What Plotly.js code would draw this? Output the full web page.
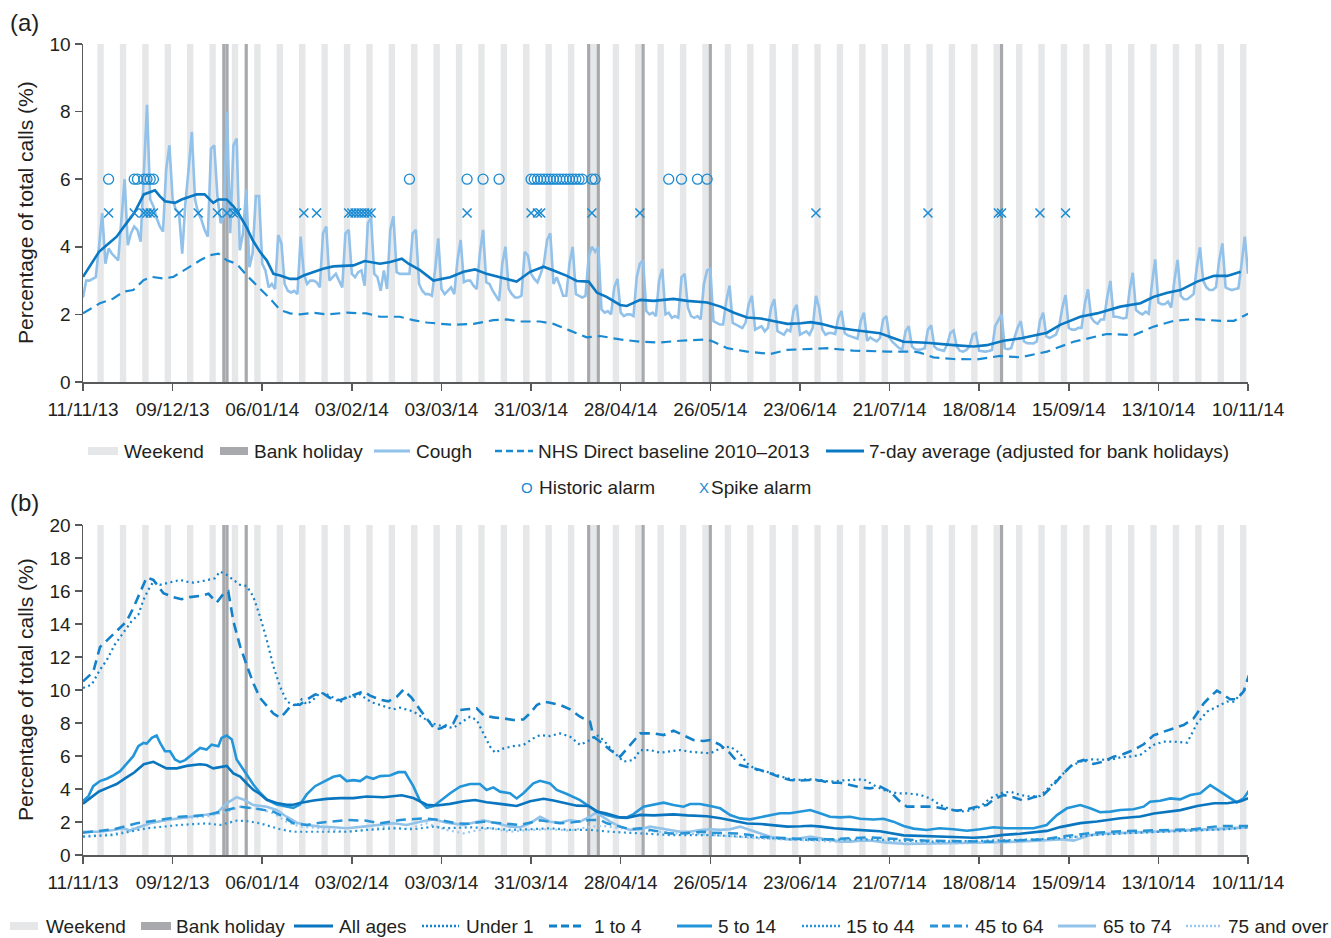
<!DOCTYPE html>
<html><head><meta charset="utf-8">
<script src="https://cdn.plot.ly/plotly-3.0.1.min.js"></script>
<style>html,body{margin:0;padding:0;background:#fff;}#chart{width:1331px;height:938px;}</style>
</head><body><div id="chart"></div>
<script>
// ---------- DATA ----------
const startDate = '2013-11-11';
const tickDates = ['2013-11-11','2013-12-09','2014-01-06','2014-02-03','2014-03-03','2014-03-31','2014-04-28','2014-05-26','2014-06-23','2014-07-21','2014-08-18','2014-09-15','2014-10-13','2014-11-10'];
const tickLabels = ['11/11/13','09/12/13','06/01/14','03/02/14','03/03/14','31/03/14','28/04/14','26/05/14','23/06/14','21/07/14','18/08/14','15/09/14','13/10/14','10/11/14'];
const bankHolidays = ['2013-12-25','2013-12-26','2014-01-01','2014-04-18','2014-04-21','2014-05-05','2014-05-26','2014-08-25'];

// (a) daily cough share (%), one value per day from startDate
const coughValues = [
2.5,3.0,3.0,3.05,3.1,4.0,5.0,
3.5,3.95,3.8,3.7,3.6,4.8,6.0,
4.05,4.4,4.6,4.5,4.15,6.2,8.2,
5.4,5.2,4.85,4.6,4.45,6.3,7.0,
5.4,5.1,5.0,3.8,5.3,6.3,7.4,
5.4,5.0,4.8,4.5,4.3,6.9,7.0,
5.5,4.7,4.9,8.0,4.4,7.0,7.2,
3.9,4.4,5.7,3.4,3.8,5.5,5.5,
3.5,3.3,2.8,2.9,2.75,4.35,4.1,
2.9,2.7,2.65,2.7,2.6,4.3,3.2,
2.9,3.0,3.0,2.95,2.8,4.4,4.6,
3.0,3.1,3.2,3.0,2.8,4.4,4.5,
3.2,3.1,3.25,3.3,2.85,4.7,4.85,
3.2,3.1,2.7,3.3,2.75,4.5,4.9,
3.25,3.2,3.2,3.2,3.2,4.4,4.5,
2.9,2.7,2.6,2.6,2.55,3.3,4.25,
2.75,2.6,2.7,2.8,2.6,3.6,4.2,
2.95,3.0,3.0,2.85,2.75,3.8,4.5,
2.95,2.9,2.7,2.55,2.4,3.5,4.0,
2.75,2.6,2.5,2.5,2.55,3.85,3.75,
3.2,3.05,2.95,3.2,3.5,4.2,4.4,
2.9,3.1,2.85,2.55,2.55,3.5,4.0,
2.6,2.55,2.5,2.55,3.7,4.0,3.85,
4.0,2.15,2.05,2.1,2.0,2.8,3.05,
2.05,1.95,2.0,2.0,1.95,3.1,3.5,
3.6,2.1,2.0,2.05,1.95,3.0,3.35,
2.0,2.05,1.9,1.95,1.9,3.1,3.2,
2.2,1.95,1.9,1.95,1.85,2.9,3.3,
3.35,1.8,1.75,1.7,1.7,2.4,2.85,
1.75,1.7,1.65,1.6,1.75,2.3,2.55,
1.55,1.6,1.65,1.5,1.6,2.2,2.45,
1.5,1.45,1.4,1.55,1.5,2.1,2.28,
1.4,1.45,1.5,1.4,1.6,2.55,2.2,
1.55,1.4,1.45,1.45,1.42,1.9,2.1,
1.44,1.38,1.34,1.3,1.28,1.8,2.05,
1.22,1.32,1.25,1.2,1.3,1.85,1.95,
1.3,1.18,1.1,1.0,0.97,1.5,1.65,
1.05,0.97,0.95,0.97,1.0,1.55,1.68,
1.05,0.97,0.95,0.92,1.1,1.45,1.52,
1.05,0.92,0.9,0.95,1.05,1.4,1.45,
0.92,0.9,0.9,0.92,0.95,1.65,1.85,
2.0,1.0,0.97,1.0,1.3,1.6,1.8,
1.2,1.15,1.15,1.14,1.2,1.8,2.05,
1.35,1.3,1.35,1.4,1.65,2.2,2.57,
1.6,1.55,1.55,1.6,1.6,2.3,2.74,
1.9,1.78,1.72,1.85,1.85,2.5,2.99,
1.93,1.93,1.9,1.88,1.9,2.7,3.23,
2.13,2.05,2.0,2.08,2.02,2.9,3.63,
2.35,2.3,2.3,2.38,2.2,3.0,3.61,
2.55,2.45,2.45,2.52,2.6,3.4,3.98,
3.0,2.8,2.72,2.72,2.8,3.6,4.1,
2.8,2.75,2.72,2.75,2.77,3.5,4.3,
3.2];

// [day since startDate, value]
const sevenDayAvg = [[0,3.11],[2,3.4],[5,3.85],[8,4.1],[10.5,4.3],[13.6,4.7],[16,5.0],[19,5.55],[20.4,5.6],[22.5,5.67],[24,5.5],[25.6,5.35],[28.75,5.3],[30.8,5.4],[34,5.5],[35.5,5.55],[38,5.55],[40.7,5.3],[42.3,5.4],[44.9,5.4],[47,5.2],[48.5,5.0],[51,4.6],[53,4.2],[55.3,3.85],[57.4,3.6],[59.5,3.2],[61.6,3.15],[64.7,3.05],[66.8,3.05],[68.9,3.15],[72,3.25],[75,3.35],[78.2,3.42],[84.5,3.45],[88,3.58],[92.8,3.5],[96,3.55],[99.6,3.65],[101.7,3.5],[105.3,3.31],[109.5,3.0],[114.7,3.1],[118.9,3.26],[122.5,3.33],[126.1,3.2],[130.3,3.1],[135.5,2.97],[139.7,3.26],[143.9,3.41],[147,3.3],[151.2,3.14],[154.3,2.99],[158,2.97],[160.6,2.64],[163.6,2.52],[167.8,2.28],[169.9,2.25],[174.1,2.43],[178.3,2.4],[184.5,2.46],[188.8,2.4],[195,2.35],[199.2,2.23],[203.4,2.05],[207.5,1.91],[211.7,1.88],[215.9,1.81],[220.1,1.72],[224.3,1.74],[227.4,1.77],[230.6,1.72],[234.7,1.62],[240.7,1.54],[249,1.44],[256.4,1.19],[263.6,1.16],[272,1.09],[278.2,1.05],[282.4,1.09],[287.6,1.22],[292.8,1.29],[301.2,1.46],[305.3,1.69],[311.6,1.93],[316.8,2.03],[324.1,2.23],[330.4,2.33],[334.6,2.52],[338.8,2.64],[342.9,2.72],[348.1,2.97],[353.4,3.14],[357.5,3.14],[361.7,3.26]];

const nhsBaseline = [[0,2.03],[5.3,2.33],[9.5,2.47],[12.6,2.67],[15.7,2.72],[18.9,3.01],[21.5,3.11],[25.1,3.06],[28.2,3.11],[32.4,3.36],[36.6,3.6],[39.7,3.75],[42.3,3.8],[44.9,3.6],[48,3.5],[51.1,3.16],[55.3,2.77],[58.4,2.47],[61.6,2.13],[64.7,2.03],[67.8,2.0],[72,2.05],[76.1,2.0],[82.4,2.05],[88.6,2.03],[92.8,1.93],[99,1.93],[103.2,1.83],[107.4,1.76],[115.7,1.69],[122,1.72],[128.2,1.83],[132.4,1.85],[136.6,1.79],[142.8,1.79],[147,1.72],[152.2,1.52],[157.4,1.32],[161.6,1.36],[167.8,1.26],[174.1,1.19],[180.3,1.17],[186.6,1.22],[195,1.26],[197,1.19],[201.3,1.0],[207.5,0.9],[214.8,0.83],[220.1,0.95],[226.3,0.97],[232.6,1.0],[240.7,0.93],[251.1,0.9],[259.4,0.9],[261.5,0.87],[265.7,0.73],[272,0.68],[279.3,0.67],[286.5,0.77],[292.8,0.73],[301.2,0.9],[309.5,1.19],[319.9,1.42],[328.3,1.39],[334.6,1.64],[340.8,1.81],[347.1,1.86],[355.4,1.81],[359.6,1.81],[364,2.02]];

const historicAlarmDays = [8,16,17,19,20,21,22,102,120,125,130,140,141,142,143,144,145,146,147,148,149,150,151,152,153,154,155,156,159,160,183,187,192,195];
const spikeAlarmDays = [8,16,19,20,21,22,30,36,42,45,47,48,69,73,83,84,85,86,87,88,89,90,120,140,142,143,159,174,229,264,286,287,299,307];
const historicAlarmLevel = 6;
const spikeAlarmLevel = 5;

// (b) age groups, [day, value]
const allAges = [[0,3.11],[2,3.4],[5,3.85],[8,4.1],[10.5,4.3],[13.6,4.7],[16,5.0],[19,5.5],[22,5.65],[24,5.45],[26.1,5.25],[29.3,5.25],[32.4,5.4],[36.6,5.5],[38.6,5.45],[40.7,5.25],[44.9,5.4],[47,4.95],[49.1,4.75],[51.1,4.35],[53.2,3.95],[55.3,3.7],[57.4,3.35],[60.5,3.15],[63.6,3.05],[65.7,3.05],[67.8,3.15],[72,3.3],[76.1,3.4],[80.3,3.45],[84.5,3.45],[88.6,3.55],[93.9,3.5],[99.6,3.62],[103.2,3.45],[107.4,3.05],[110.5,3.0],[114.7,3.1],[118.9,3.26],[122.5,3.33],[126.1,3.2],[130.3,3.1],[135.5,2.97],[139.7,3.26],[143.9,3.41],[147,3.3],[151.2,3.14],[154.3,2.99],[158,2.97],[160.6,2.64],[163.6,2.52],[167.8,2.28],[169.9,2.25],[174.1,2.43],[178.3,2.4],[184.5,2.46],[188.8,2.4],[195,2.35],[199.2,2.23],[203.4,2.05],[207.5,1.91],[211.7,1.88],[215.9,1.81],[220.1,1.72],[224.3,1.74],[227.4,1.77],[230.6,1.72],[234.7,1.62],[240.7,1.54],[249,1.44],[256.4,1.19],[263.6,1.16],[272,1.09],[278.2,1.05],[282.4,1.09],[287.6,1.22],[292.8,1.29],[301.2,1.46],[305.3,1.69],[311.6,1.93],[316.8,2.03],[324.1,2.23],[330.4,2.33],[334.6,2.52],[338.8,2.64],[342.9,2.72],[348.1,2.97],[353.4,3.14],[357.5,3.14],[361.7,3.26],[364.3,3.45]];

const under1 = [[0,10.12],[2.7,10.32],[5.3,11.23],[7.4,11.8],[9.9,12.74],[12.5,13.45],[15.1,14.15],[17.3,14.56],[18.9,15.47],[20.4,16.07],[22,16.57],[24,16.37],[26.1,16.47],[28.2,16.57],[30.3,16.67],[32.4,16.57],[34.5,16.51],[36.6,16.57],[38.6,16.67],[41.2,16.77],[42.8,17.18],[44.9,16.98],[47,16.67],[49.1,16.37],[51.1,16.31],[53.2,15.67],[55.3,14.46],[57.4,13.05],[59.5,11.43],[61.6,10.2],[63.6,9.33],[65.2,9.13],[66.8,9.03],[68.3,9.43],[69.9,9.13],[72,9.43],[74.1,9.84],[76.1,9.74],[78.2,9.54],[80.3,9.23],[82.4,9.64],[84.5,9.54],[86.6,9.74],[88.6,9.43],[90.7,9.23],[93.9,9.03],[97,8.83],[99.1,8.93],[101.1,8.83],[103.2,8.7],[106.4,8.3],[109.5,7.95],[112.4,7.8],[115.7,7.7],[117.8,7.98],[120.9,8.38],[123,8.18],[125.1,7.37],[127.2,6.57],[128.75,6.2],[131.4,6.46],[134.5,6.6],[137.6,6.67],[140.7,7.07],[142.8,7.27],[145.9,7.21],[149.1,7.37],[152.2,7.17],[155.3,6.67],[158.4,6.97],[160.5,7.27],[162.6,6.97],[165.7,6.26],[168.9,5.66],[172,5.76],[174.1,6.36],[177.2,6.36],[180.3,6.2],[183.4,6.26],[186.6,6.36],[189.7,6.26],[192.8,6.2],[196,6.16],[199.1,6.46],[202.2,6.57],[205.3,6.16],[207.4,5.56],[210.5,5.15],[213.6,5.05],[216.8,4.85],[219.9,4.65],[223,4.55],[227.2,4.59],[230.3,4.55],[233.4,4.44],[236.6,4.51],[239.7,4.53],[243.9,4.59],[247,4.24],[250.1,3.94],[254.3,3.74],[257.4,3.74],[261.6,3.64],[264.7,3.43],[267.8,3.03],[271,2.77],[274.1,2.63],[277.2,2.69],[280.3,2.93],[283.4,3.43],[286.6,3.74],[289.7,3.84],[292.8,3.64],[295.9,3.54],[299.1,3.58],[302.2,4.14],[305.3,4.75],[308.4,5.35],[311.6,5.66],[314.7,5.8],[317.8,5.76],[320.9,5.76],[324.1,5.92],[327.1,5.96],[330.3,6.06],[334.5,6.67],[337.6,6.87],[340.7,6.87],[345,6.81],[348.1,7.98],[351.2,8.69],[354.3,8.99],[357.4,9.29],[359.5,9.29],[361.6,9.7],[364,10.2]];

const oneToFour = [[0,10.52],[1.7,10.8],[3.2,11.1],[5.3,12.6],[7.4,13.0],[9.5,13.4],[11.6,13.75],[13.6,14.15],[15.7,14.96],[17.8,15.87],[19.9,16.83],[22,16.67],[23.5,16.27],[25.1,15.87],[28.2,15.63],[30.8,15.5],[33.4,15.63],[36.6,15.7],[39.2,15.83],[41.8,15.3],[43.9,15.83],[45.4,15.97],[47,14.15],[49.1,12.64],[51.1,11.53],[53.2,10.42],[55.3,9.52],[57.4,9.01],[59.5,8.57],[61.6,8.31],[63.1,8.61],[65.2,9.11],[67.8,9.11],[69.9,9.42],[72.5,9.72],[75.1,9.78],[77.2,9.52],[80.3,9.38],[83.4,9.62],[87.6,9.92],[89.7,9.66],[92.8,9.42],[95.4,9.31],[98,9.58],[100.1,10.02],[102.7,9.52],[105.3,8.81],[108.4,8.0],[110,7.6],[112.1,7.7],[113.6,7.88],[115.7,7.98],[117.8,8.79],[119.9,8.83],[123,8.89],[125.1,8.48],[128.2,8.34],[131.4,8.28],[134.5,8.18],[137.6,8.22],[139.7,8.59],[141.8,9.09],[143.9,9.29],[145.9,9.23],[149.1,9.09],[152.2,8.83],[155.3,8.38],[158.4,8.08],[159.5,7.17],[161.6,6.87],[164.7,6.36],[167.8,5.96],[170.9,6.67],[174.1,7.37],[178.2,7.37],[181.4,7.27],[184.5,7.54],[187.6,7.27],[190.7,6.97],[193.9,6.91],[196,6.97],[199.1,6.67],[202.2,6.16],[205.3,5.45],[208.4,5.31],[211.6,5.15],[214.7,4.95],[217.8,4.71],[220.9,4.55],[224.1,4.51],[227.2,4.55],[230.3,4.51],[233.4,4.38],[236.6,4.38],[239.7,4.24],[242.8,4.1],[245.9,4.04],[249.1,4.14],[252.2,3.84],[255.3,3.23],[257.4,2.93],[261.6,2.93],[265.7,2.93],[269.9,2.77],[273,2.69],[276.2,2.77],[279.3,2.93],[282.4,3.03],[284.5,3.37],[287.6,3.64],[290.7,3.5],[293.9,3.29],[297,3.5],[300.1,3.64],[303.2,4.24],[306.4,4.95],[309.5,5.56],[312.6,5.76],[315.7,5.52],[318.9,5.66],[322,5.96],[325.1,6.12],[328.2,6.36],[331.4,6.71],[334.5,7.25],[337.6,7.47],[340.7,7.68],[343.9,7.88],[347,8.28],[350.2,9.19],[352.2,9.6],[354.3,9.96],[356.4,9.7],[358.4,9.44],[360.5,9.44],[362.6,9.9],[364.3,10.9]];

const fiveToFourteen = [[0,3.27],[1.7,3.57],[3.2,4.17],[5.3,4.48],[7.4,4.62],[9.5,4.82],[11.6,5.08],[13.6,5.54],[15.7,5.99],[17.3,6.59],[18.9,6.79],[19.9,6.75],[21.5,7.1],[23,7.24],[24.1,6.79],[25.6,6.29],[27.2,6.29],[28.75,5.79],[30.3,5.63],[31.9,5.75],[33.4,5.99],[35,6.19],[36.6,6.49],[38.6,6.39],[40.2,6.69],[42.3,6.59],[43.3,7.1],[44.9,7.24],[46.5,7.0],[48,5.79],[51.1,4.88],[53.2,4.27],[55.3,3.77],[57.4,3.37],[60.5,3.06],[63.6,2.96],[65.7,2.86],[67.8,3.06],[69.9,3.67],[72.5,4.17],[75.1,4.42],[78.2,4.74],[80.3,4.82],[82.4,4.48],[84.5,4.54],[86.6,4.48],[88.6,4.74],[90.7,4.62],[92.8,4.78],[95.9,4.82],[98.5,5.02],[100.6,5.02],[103.2,4.17],[105.3,3.27],[107.4,2.86],[109.5,2.96],[111.6,3.27],[114.7,3.74],[117.8,4.14],[120.9,4.3],[124,4.3],[126.1,3.94],[128.2,4.1],[130.3,3.84],[133.4,3.74],[135.5,3.43],[137.6,3.74],[140.7,4.34],[142.8,4.5],[145.9,4.34],[148,3.94],[151.2,3.7],[155.3,3.33],[158.4,2.93],[160.5,2.63],[163.6,2.42],[166.7,2.28],[169.9,2.28],[172,2.48],[175.1,2.93],[178.2,3.03],[181.4,3.17],[184.5,3.03],[187.6,2.93],[189.7,3.09],[192.8,3.09],[196,2.97],[199.1,2.83],[202.2,2.42],[205.3,2.22],[208.4,2.16],[211.6,2.28],[214.7,2.42],[217.8,2.53],[220.9,2.53],[224.1,2.63],[227.2,2.73],[230.3,2.53],[233.4,2.32],[236.6,2.28],[239.7,2.32],[242.8,2.2],[247,2.15],[250.1,2.2],[253.2,2.02],[256.4,1.76],[259.5,1.6],[263.6,1.52],[267.6,1.62],[272,1.56],[276.2,1.47],[280.3,1.56],[284.5,1.68],[288.6,1.62],[292.8,1.62],[297,1.62],[301.1,1.82],[304.3,2.42],[307.4,2.83],[311.6,3.03],[314.7,2.83],[317.8,2.59],[321,2.63],[324.1,2.73],[328.2,2.77],[331.4,2.93],[333.4,3.23],[336.6,3.29],[339.7,3.43],[342.8,3.37],[346,3.64],[349.1,3.74],[352.2,4.24],[355.3,3.84],[358.4,3.43],[360.5,3.19],[362.6,3.43],[364.3,3.9]];

const fifteenToFortyFour = [[0,1.11],[9.5,1.21],[19.9,1.62],[30.3,1.82],[38.6,1.92],[42.8,1.82],[48,2.08],[51.1,2.06],[55.3,1.92],[61.6,1.56],[65.7,1.41],[72,1.41],[82.4,1.41],[88.6,1.52],[98,1.62],[103.2,1.56],[109.5,1.72],[113.6,1.62],[120.9,1.68],[127.2,1.62],[133.4,1.52],[139.7,1.56],[145.9,1.62],[152.2,1.52],[158.4,1.52],[164.7,1.41],[170.9,1.35],[177.2,1.27],[183.4,1.21],[189.7,1.21],[195.9,1.21],[202.2,1.15],[208.4,1.07],[214.7,1.01],[220.9,0.95],[227.2,0.91],[233.4,0.91],[239.7,0.95],[245.9,0.95],[254,0.88],[263.6,0.81],[274,0.83],[284.5,0.87],[295,0.93],[305.3,1.01],[315.7,1.21],[326,1.32],[336.6,1.41],[347,1.48],[357.4,1.56],[364.3,1.68]];

const fortyFiveToSixtyFour = [[0,1.35],[9.5,1.56],[16.8,1.92],[23,2.12],[30.3,2.32],[38.6,2.42],[44.9,2.73],[49.1,2.93],[55.3,2.77],[59.5,2.63],[62.6,2.32],[65.7,1.92],[69.9,1.82],[74.1,1.96],[82.4,2.12],[88.6,2.08],[92.8,1.92],[99.1,2.12],[106.4,2.22],[111.6,2.12],[116.8,1.92],[120.9,1.9],[125.1,2.02],[131.3,1.92],[136.6,1.82],[142.8,2.1],[149,1.92],[152.2,1.96],[158.4,2.12],[161.6,2.12],[163.7,1.92],[167.8,1.72],[170.9,1.56],[174.1,1.62],[177.2,1.52],[180.3,1.41],[183.4,1.31],[186.6,1.31],[189.7,1.35],[194,1.41],[195.9,1.35],[200,1.31],[204.3,1.31],[208.4,1.21],[211.6,1.11],[214.7,1.07],[220.9,1.01],[227.2,0.95],[233.4,0.95],[239.7,1.01],[245.9,1.07],[251.1,1.01],[263.6,0.87],[275,0.83],[284.5,0.81],[292,0.88],[300,0.95],[307,1.15],[315.7,1.35],[326,1.45],[336.6,1.52],[347,1.56],[355.3,1.76],[364.3,1.76]];

const sixtyFiveToSeventyFour = [[0,1.41],[5.3,1.41],[9.5,1.52],[12.6,1.62],[14.7,1.48],[17.8,1.72],[20.9,1.92],[26.1,2.12],[30.3,2.22],[34.5,2.32],[38.6,2.42],[41.8,2.53],[44.9,3.13],[48,3.5],[50.1,3.37],[53.2,3.03],[57.4,2.93],[60.5,2.73],[63.6,2.32],[66.8,1.96],[69.9,1.82],[74.1,1.72],[78.2,1.68],[82.4,1.62],[87.6,1.72],[92.8,1.82],[97,1.92],[101.1,1.82],[105.3,2.02],[109.5,2.16],[113.6,1.96],[118.9,1.82],[122,1.96],[125.1,2.1],[129.2,1.92],[133.4,1.72],[136.6,1.68],[139.7,1.92],[142.8,2.32],[145.9,2.02],[149,1.96],[152.2,2.12],[155.3,2.02],[158.4,2.32],[160,2.53],[161.6,2.42],[164.7,2.02],[167.8,1.72],[170.9,1.52],[174.1,1.56],[177.2,1.72],[180.3,1.62],[183.4,1.52],[186.6,1.41],[189.7,1.41],[192.8,1.52],[195.9,1.56],[199.1,1.52],[202.2,1.56],[205.3,1.72],[208.4,1.52],[211.6,1.31],[214.7,1.11],[217.8,1.01],[220.9,0.95],[224.1,1.01],[227.2,1.11],[230.3,1.01],[233.4,0.91],[236.6,0.81],[239.7,0.81],[242.8,0.87],[245.9,0.88],[251,0.75],[257.4,0.67],[265,0.7],[274,0.71],[282,0.74],[289.7,0.79],[297,0.85],[305.3,0.95],[309.5,0.87],[314.7,1.21],[320,1.3],[326.6,1.35],[336,1.42],[347.4,1.52],[356,1.6],[364.3,1.68]];

const seventyFivePlus = [[0,1.15],[9.5,1.27],[15.7,1.62],[23,2.02],[30.3,2.22],[38.6,2.32],[44.9,2.63],[49.1,2.93],[55.3,2.77],[59.5,2.53],[63.6,2.02],[67.8,1.72],[74.1,1.62],[82.4,1.41],[88.6,1.52],[95,1.72],[101.1,1.56],[107.4,1.92],[113.6,1.52],[118.9,1.31],[122,1.45],[127.2,1.62],[133.4,1.41],[139.7,1.52],[145.9,1.56],[152.2,1.48],[158.4,1.72],[162.6,1.76],[167.8,1.62],[173,1.52],[179.2,1.41],[185.4,1.31],[191.7,1.27],[197.9,1.21],[204.3,1.11],[210.5,1.01],[216.8,0.95],[223,0.91],[229.3,0.87],[235.5,0.81],[241.8,0.85],[245.9,0.88],[257.4,0.71],[274,0.71],[289.7,0.79],[305.3,0.95],[316,1.25],[326,1.33],[336.6,1.41],[347,1.48],[357.4,1.56],[364.3,1.68]];

// ---------- STYLE ----------
const FONT = 'Liberation Sans, Arial, Helvetica, sans-serif';
const INK = '#231f20';
const AXIS = '#58595b';
const WEEKEND = '#e6e7e8';
const BANKHOL = '#a7a9ac';
const C_COUGH = '#92c1e9';
const C_AVG = '#0a78c2';
const C_BASE = '#1a8ad2';
const C_MARK = '#1a8ad2';
const C_ALL = '#0a76bf';
const C_U1 = '#1281c9';
const C_514 = '#2395d9';
const C_1544 = '#2794d7';
const C_6574 = '#93c3e9';
const C_75 = '#9ccaee';
const DASH = '10px,6px';
const DOT = '2px,3.5px';

const W = 1331, H = 938;
const DAY = 86400000;
const BASE = Date.parse(startDate + 'T00:00:00Z');
function dt(d){ return new Date(BASE + d*DAY).toISOString().replace('T',' ').replace('Z',''); }
function dayOf(s){ return (Date.parse(s + 'T00:00:00Z') - BASE)/DAY; }
function P(x){ return x/W; }
function Q(y){ return 1 - y/H; }

function series(pairs, xa, ya, color, width, dash){
  return {type:'scatter', mode:'lines', x:pairs.map(p=>dt(p[0])), y:pairs.map(p=>p[1]),
    xaxis:xa, yaxis:ya, line:{color:color, width:width, dash:dash||'solid'}, hoverinfo:'skip'};
}

const traces = [
  {type:'scatter', mode:'lines', x:coughValues.map((v,i)=>dt(i)), y:coughValues, xaxis:'x', yaxis:'y',
   line:{color:C_COUGH, width:2.6}, hoverinfo:'skip'},
  series(nhsBaseline,'x','y',C_BASE,2.2,DASH),
  series(sevenDayAvg,'x','y',C_AVG,2.6),
  {type:'scatter', mode:'markers', x:historicAlarmDays.map(dt), y:historicAlarmDays.map(()=>historicAlarmLevel),
   xaxis:'x', yaxis:'y', marker:{symbol:'circle-open', size:10, color:C_MARK, line:{width:1.3, color:C_MARK}}, hoverinfo:'skip'},
  {type:'scatter', mode:'markers', x:spikeAlarmDays.map(dt), y:spikeAlarmDays.map(()=>spikeAlarmLevel),
   xaxis:'x', yaxis:'y', marker:{symbol:'x-thin-open', size:9, color:C_MARK, line:{width:1.5, color:C_MARK}}, hoverinfo:'skip'},

  series(seventyFivePlus,'x2','y2',C_75,2.2,DOT),
  series(sixtyFiveToSeventyFour,'x2','y2',C_6574,2.6),
  series(fifteenToFortyFour,'x2','y2',C_1544,2.2,DOT),
  series(fortyFiveToSixtyFour,'x2','y2',C_1544,2.5,DASH),
  series(fiveToFourteen,'x2','y2',C_514,2.6),
  series(allAges,'x2','y2',C_ALL,2.6),
  series(under1,'x2','y2',C_U1,2.2,DOT),
  series(oneToFour,'x2','y2',C_U1,2.6,DASH)
];

// ---------- SHAPES ----------
const shapes = [];
[['x','y domain'],['x2','y2 domain']].forEach(([xr,yr])=>{
  for (let d=0; d<=364; d++){
    const wd = new Date(BASE + d*DAY).getUTCDay();
    if (wd === 6){
      shapes.push({type:'rect', xref:xr, yref:yr, x0:dt(d-0.5), x1:dt(d+1.5), y0:0, y1:1,
        fillcolor:WEEKEND, line:{width:0}, layer:'below'});
    }
  }
  bankHolidays.forEach(s=>{
    const d = dayOf(s);
    shapes.push({type:'rect', xref:xr, yref:yr, x0:dt(d-0.5), x1:dt(d+0.5), y0:0, y1:1,
      fillcolor:BANKHOL, line:{width:0}, layer:'below'});
  });
});

const annotations = [];
function txt(x, y, t, opts){
  annotations.push(Object.assign({xref:'paper', yref:'paper', x:P(x), y:Q(y), text:t, showarrow:false,
    xanchor:'left', yanchor:'middle', font:{family:FONT, size:19, color:INK}}, opts||{}));
}
function swRect(x0, x1, yc, color){
  shapes.push({type:'rect', xref:'paper', yref:'paper', x0:P(x0), x1:P(x1), y0:Q(yc+4), y1:Q(yc-4),
    fillcolor:color, line:{width:0}});
}
function swLine(x0, x1, yc, color, width, dash){
  shapes.push({type:'line', xref:'paper', yref:'paper', x0:P(x0), x1:P(x1), y0:Q(yc), y1:Q(yc),
    line:{color:color, width:width, dash:dash||'solid'}});
}

// panel labels and axis titles
txt(8, 22, '(a)', {font:{family:FONT, size:24, color:INK}});
txt(8, 502, '(b)', {font:{family:FONT, size:24, color:INK}});
txt(25, 213, 'Percentage of total calls (%)', {textangle:-90, xanchor:'center', font:{family:FONT, size:21, color:INK}});
txt(25, 690, 'Percentage of total calls (%)', {textangle:-90, xanchor:'center', font:{family:FONT, size:21, color:INK}});

// legend (a)
const LA = 451;
swRect(88, 118, LA, WEEKEND); txt(122, LA, 'Weekend');
swRect(220, 248, LA, BANKHOL); txt(252, LA, 'Bank holiday');
swLine(374, 410, LA, C_COUGH, 3); txt(414, LA, 'Cough');
swLine(495, 533, LA, C_BASE, 2.5, '7px,4px'); txt(536, LA, 'NHS Direct baseline 2010–2013');
swLine(826, 864, LA, C_AVG, 3); txt(867, LA, '7-day average (adjusted for bank holidays)');
const LA2 = 487;
txt(527, LA2, 'O', {xanchor:'center', font:{family:FONT, size:15, color:C_MARK}});
txt(537, LA2, 'Historic alarm');
txt(704, LA2, 'X', {xanchor:'center', font:{family:FONT, size:15, color:C_MARK}});
txt(709, LA2, 'Spike alarm');

// legend (b)
const LB = 926;
swRect(10, 38, LB, WEEKEND); txt(44, LB, 'Weekend');
swRect(141, 171, LB, BANKHOL); txt(174, LB, 'Bank holiday');
swLine(294, 333, LB, C_ALL, 3); txt(337, LB, 'All ages');
swLine(422, 459, LB, C_U1, 2.5, '2px,2px'); txt(464, LB, 'Under 1');
swLine(549, 584, LB, C_U1, 3, '8px,4px'); txt(592, LB, '1 to 4');
swLine(677, 712, LB, C_514, 3); txt(716, LB, '5 to 14');
swLine(802, 840, LB, C_1544, 2.5, '2px,2px'); txt(844, LB, '15 to 44');
swLine(930, 968, LB, C_1544, 3, '8px,4px'); txt(973, LB, '45 to 64');
swLine(1058, 1096, LB, C_6574, 3); txt(1101, LB, '65 to 74');
swLine(1186, 1222, LB, C_75, 2.5, '2px,2px'); txt(1226, LB, '75 and over');

// ---------- LAYOUT ----------
function xAxis(anchor){
  return {domain:[P(83), P(1248)], anchor:anchor, type:'date', range:[dt(0), dt(364)],
    tickmode:'array', tickvals:tickDates, ticktext:tickLabels,
    ticks:'outside', ticklen:7, tickwidth:1.5, tickcolor:AXIS, ticklabelstandoff:3,
    showline:true, linecolor:AXIS, linewidth:1.5, showgrid:false, zeroline:false,
    tickfont:{family:FONT, size:19, color:INK}, automargin:false, fixedrange:true};
}
function yAxis(anchor, dom, max){
  return {domain:dom, anchor:anchor, range:[0,max], tick0:0, dtick:2,
    ticks:'outside', ticklen:7, tickwidth:1.5, tickcolor:AXIS,
    showline:true, linecolor:AXIS, linewidth:1.5, showgrid:false, zeroline:false,
    tickfont:{family:FONT, size:19, color:INK}, automargin:false, fixedrange:true};
}

const layout = {
  width:W, height:H, margin:{l:0, r:0, t:0, b:0, pad:0},
  paper_bgcolor:'#ffffff', plot_bgcolor:'rgba(0,0,0,0)',
  showlegend:false, font:{family:FONT, size:19, color:INK},
  xaxis:xAxis('y'), yaxis:yAxis('x', [Q(382), Q(44)], 10),
  xaxis2:xAxis('y2'), yaxis2:yAxis('x2', [Q(855), Q(525)], 20),
  shapes:shapes, annotations:annotations
};

Plotly.newPlot('chart', traces, layout, {staticPlot:true, displayModeBar:false});
</script>
</body></html>
